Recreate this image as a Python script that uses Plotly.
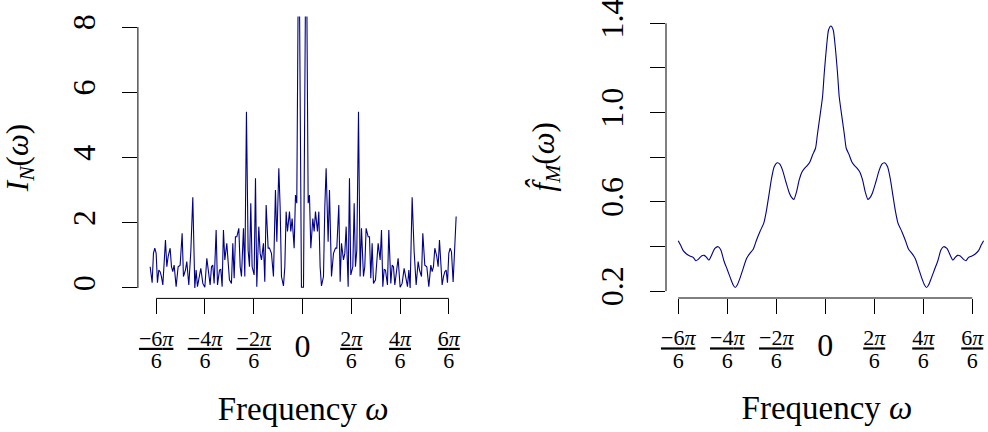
import math
import plotly.graph_objects as go

PI = math.pi

# ---------------- data: raw periodogram I_N(omega) ----------------
freq_periodogram = [
    -3.271, -3.228, -3.200, -3.171, -3.142, -3.114, -3.085, -3.057, -3.028, -2.999,
    -2.971, -2.942, -2.913, -2.885, -2.842, -2.813, -2.785, -2.756, -2.713, -2.670,
    -2.627, -2.584, -2.556, -2.513, -2.484, -2.441, -2.398, -2.355, -2.312, -2.284,
    -2.255, -2.212, -2.183, -2.140, -2.097, -2.054, -2.011, -1.983, -1.954, -1.926,
    -1.897, -1.854, -1.825, -1.782, -1.754, -1.725, -1.697, -1.668, -1.625, -1.596,
    -1.568, -1.525, -1.496, -1.467, -1.439, -1.410, -1.367, -1.338, -1.310, -1.267,
    -1.238, -1.203, -1.167, -1.138, -1.110, -1.081, -1.038, -1.009, -0.981, -0.938,
    -0.909, -0.880, -0.838, -0.809, -0.780, -0.737, -0.709, -0.666, -0.623, -0.580,
    -0.551, -0.508, -0.480, -0.451, -0.408, -0.379, -0.351, -0.322, -0.279, -0.251,
    -0.222, -0.179, -0.150, -0.122, -0.079, -0.022,
    0.022, 0.079, 0.122, 0.150, 0.179, 0.222, 0.251, 0.279, 0.322, 0.351,
    0.379, 0.408, 0.451, 0.480, 0.508, 0.551, 0.580, 0.623, 0.666, 0.709,
    0.737, 0.780, 0.809, 0.838, 0.880, 0.909, 0.938, 0.981, 1.009, 1.038,
    1.081, 1.110, 1.138, 1.167, 1.203, 1.238, 1.267, 1.310, 1.338, 1.367,
    1.410, 1.439, 1.467, 1.496, 1.525, 1.568, 1.596, 1.625, 1.668, 1.697,
    1.725, 1.754, 1.782, 1.825, 1.854, 1.897, 1.926, 1.954, 1.983, 2.011,
    2.054, 2.097, 2.140, 2.183, 2.212, 2.255, 2.284, 2.312, 2.355, 2.398,
    2.441, 2.484, 2.513, 2.556, 2.584, 2.627, 2.670, 2.713, 2.756, 2.785,
    2.813, 2.842, 2.885, 2.913, 2.942, 2.971, 2.999, 3.028, 3.057, 3.085,
    3.114, 3.142, 3.171, 3.200, 3.235, 3.300,
]
periodogram = [
    0.65, 0.16, 1.06, 1.22, 1.06, 0.16, 0.55, 0.50, 0.35, 0.09,
    0.76, 1.47, 0.65, 0.96, 1.22, 0.65, 0.50, 0.70, 0.04, 0.65,
    0.70, 1.68, 0.35, 0.55, 0.81, 0.09, 1.11, 2.78, 0.00, 0.55,
    0.04, 0.35, 0.60, 0.14, 0.02, 0.91, 0.45, 0.09, 0.65, 0.70,
    0.14, 1.78, 0.09, 0.55, 0.57, 0.04, 1.78, 0.86, 1.37, 0.86,
    0.25, 0.14, 1.37, 0.30, 1.57, 1.57, 1.83, 0.65, 0.35, 1.83,
    0.35, 5.40, 1.16, 0.65, 2.60, 0.65, 0.40, 3.36, 0.04, 1.88,
    1.06, 0.86, 1.37, 0.19, 2.54, 1.22, 1.22, 1.06, 0.35, 3.00,
    1.42, 3.67, 2.50, 0.35, 0.06, 0.65, 2.34, 1.73, 2.34, 1.73,
    2.13, 1.22, 2.85, 2.60, 12.0, 0.02,
    0.02, 12.0, 2.60, 2.85, 1.22, 2.13, 1.73, 2.34, 1.73, 2.34,
    0.65, 0.06, 0.35, 2.50, 3.67, 1.42, 3.00, 0.35, 1.06, 1.22,
    1.22, 2.54, 0.19, 1.37, 0.86, 1.06, 1.88, 0.04, 3.36, 0.40,
    0.65, 2.60, 0.65, 1.16, 5.40, 0.35, 1.83, 0.35, 0.65, 1.83,
    1.57, 1.57, 0.30, 1.37, 0.14, 0.25, 0.86, 1.37, 0.86, 1.78,
    0.04, 0.57, 0.55, 0.09, 1.78, 0.14, 0.70, 0.65, 0.09, 0.45,
    0.91, 0.02, 0.14, 0.60, 0.35, 0.04, 0.55, 0.00, 2.78, 1.11,
    0.09, 0.81, 0.55, 0.35, 1.68, 0.70, 0.65, 0.04, 0.70, 0.50,
    0.65, 1.22, 0.96, 0.65, 1.47, 0.76, 0.09, 0.35, 0.50, 0.55,
    0.16, 1.06, 1.22, 1.10, 0.18, 2.19,
]

# ---------------- data: smoothed spectrum f_M(omega) ----------------
freq_smooth = [
    -3.141, -3.091, -3.034, -2.963, -2.892, -2.821, -2.764, -2.714, -2.643, -2.586,
    -2.536, -2.486, -2.429, -2.358, -2.287, -2.230, -2.165, -2.094, -2.023, -1.966,
    -1.923, -1.880, -1.823, -1.752, -1.681, -1.610, -1.539, -1.467, -1.396, -1.311,
    -1.254, -1.197, -1.147, -1.090, -1.026, -0.969, -0.912, -0.841, -0.769, -0.719,
    -0.670, -0.613, -0.556, -0.499, -0.442, -0.385, -0.328, -0.271, -0.207, -0.164,
    -0.114, -0.057, -0.021, 0.028, 0.071, 0.121,
    0.171, 0.214, 0.263, 0.299, 0.356, 0.406, 0.449, 0.513, 0.570, 0.627,
    0.684, 0.741, 0.798, 0.855, 0.912, 0.961, 1.011, 1.083, 1.154, 1.211,
    1.268, 1.332, 1.389, 1.439, 1.496, 1.553, 1.638, 1.709, 1.781, 1.852,
    1.923, 1.994, 2.065, 2.122, 2.165, 2.208, 2.265, 2.336, 2.407, 2.472,
    2.529, 2.600, 2.671, 2.728, 2.778, 2.828, 2.885, 2.956, 3.006, 3.063,
    3.134, 3.205, 3.276, 3.333, 3.383,
]
smooth = [
    0.426, 0.406, 0.381, 0.366, 0.357, 0.351, 0.336, 0.342, 0.357, 0.360,
    0.351, 0.339, 0.361, 0.391, 0.399, 0.384, 0.336, 0.297, 0.257, 0.227,
    0.216, 0.227, 0.257, 0.302, 0.346, 0.369, 0.387, 0.429, 0.466, 0.506,
    0.563, 0.638, 0.705, 0.757, 0.775, 0.769, 0.742, 0.690, 0.641, 0.620,
    0.611, 0.645, 0.698, 0.733, 0.750, 0.762, 0.778, 0.810, 0.840, 0.907,
    0.982, 1.071, 1.176, 1.295, 1.370, 1.388,
    1.370, 1.295, 1.176, 1.071, 0.982, 0.907, 0.840, 0.810, 0.778, 0.762,
    0.750, 0.733, 0.698, 0.645, 0.611, 0.620, 0.641, 0.690, 0.742, 0.769,
    0.775, 0.757, 0.705, 0.638, 0.563, 0.506, 0.466, 0.429, 0.387, 0.369,
    0.346, 0.302, 0.257, 0.227, 0.216, 0.227, 0.257, 0.297, 0.336, 0.384,
    0.399, 0.391, 0.361, 0.339, 0.351, 0.360, 0.357, 0.342, 0.336, 0.351,
    0.357, 0.366, 0.381, 0.406, 0.426,
]

# ---------------- tick labels ----------------
frac_tickvals = [-PI, -2 * PI / 3, -PI / 3, PI / 3, 2 * PI / 3, PI]
frac_numerators = ["−6", "−4", "−2", "2", "4", "6"]
frac_denominator = "6"
zero_tickvals = [0]
zero_ticktext = ["0"]
y1_tickvals = [0, 2, 4, 6, 8]
y1_ticktext = ["0", "2", "4", "6", "8"]
y2_tickvals = [0.2, 0.6, 1.0, 1.4]
y2_ticktext = ["0.2", "0.6", "1.0", "1.4"]
y2_minor_tickvals = [0.4, 0.8, 1.2]

frac_ticktext = [
    f"<span style='font-size:22px'><u>{n}<i>π</i></u></span><br>"
    f"<span style='font-size:22px'>{frac_denominator}</span>"
    for n in frac_numerators
]

FONT = "Liberation Serif"
LINE_COLOR = "#00008B"
W, H = 988, 432
X1_RANGE = [-3.534, 3.563]
X2_RANGE = [-3.402, 3.478]

fig = go.Figure()
fig.add_trace(go.Scatter(x=freq_periodogram, y=periodogram, mode="lines",
                         line=dict(color=LINE_COLOR, width=1.1),
                         xaxis="x", yaxis="y", showlegend=False, hoverinfo="skip"))
fig.add_trace(go.Scatter(x=freq_smooth, y=smooth, mode="lines",
                         line=dict(color=LINE_COLOR, width=1.1, shape="spline", smoothing=0.6),
                         xaxis="x2", yaxis="y2", showlegend=False, hoverinfo="skip"))
# empty carriers for the overlay axes that hold the "0" label
fig.add_trace(go.Scatter(x=[], y=[], xaxis="x3", yaxis="y", showlegend=False))
fig.add_trace(go.Scatter(x=[], y=[], xaxis="x4", yaxis="y2", showlegend=False))

tick_style = dict(ticks="outside", ticklen=15, tickwidth=1, tickcolor="black",
                  showgrid=False, zeroline=False, showline=False, automargin=False)
frac_x = dict(tickvals=frac_tickvals, ticktext=frac_ticktext,
              tickfont=dict(family=FONT, size=17, color="black"),
              ticklabelstandoff=11, ticklabeloverflow="allow",
              title=dict(text="Frequency <i>ω</i>",
                         font=dict(family=FONT, size=33, color="black"), standoff=24),
              **tick_style)
zero_x = dict(tickvals=zero_tickvals, ticktext=zero_ticktext,
              tickfont=dict(family=FONT, size=32, color="black"),
              ticklabelstandoff=4, ticklabeloverflow="allow", **tick_style)
common_y = dict(tickangle=-90, tickfont=dict(family=FONT, size=32, color="black"),
                ticklabelstandoff=14, ticklabeloverflow="allow", **tick_style)

X1_DOM = [137.9 / W, 468.4 / W]
X2_DOM = [666 / W, 1.0]

fig.update_layout(
    width=W, height=H,
    margin=dict(l=0, r=0, t=0, b=0, autoexpand=False),
    paper_bgcolor="white", plot_bgcolor="white",
    xaxis=dict(domain=X1_DOM, range=X1_RANGE, anchor="y", **frac_x),
    xaxis3=dict(domain=X1_DOM, range=X1_RANGE, anchor="y", overlaying="x", **zero_x),
    yaxis=dict(domain=[(H - 298.4) / H, (H - 16.6) / H], range=[-0.32, 8.32], anchor="x",
               tickvals=y1_tickvals, ticktext=y1_ticktext,
               title=dict(text="<i>I</i><sub><i>N</i></sub>(<i>ω</i>)",
                          font=dict(family=FONT, size=31, color="black"), standoff=30),
               **common_y),
    xaxis2=dict(domain=X2_DOM, range=X2_RANGE, anchor="y2", **frac_x),
    xaxis4=dict(domain=X2_DOM, range=X2_RANGE, anchor="y2", overlaying="x2", **zero_x),
    yaxis2=dict(domain=[(H - 298.0) / H, (H - 15.5) / H], range=[0.169, 1.435], anchor="x2",
                tickvals=y2_tickvals, ticktext=y2_ticktext,
                minor=dict(tickmode="array", tickvals=y2_minor_tickvals, ticks="outside",
                           ticklen=15, tickwidth=1, tickcolor="black", showgrid=False),
                title=dict(text="<i>f̂</i><sub><i>M</i></sub>(<i>ω</i>)",
                           font=dict(family=FONT, size=31, color="black"), standoff=30),
                **common_y),
    shapes=[
        dict(type="line", xref="x", yref="y domain", x0=-PI, x1=PI, y0=0, y1=0,
             line=dict(color="black", width=1)),
        dict(type="line", xref="x domain", yref="y", x0=0, x1=0, y0=0, y1=8,
             line=dict(color="black", width=1)),
        dict(type="line", xref="x2", yref="y2 domain", x0=-PI, x1=PI, y0=0, y1=0,
             line=dict(color="black", width=1)),
        dict(type="line", xref="x2 domain", yref="y2", x0=0, x1=0, y0=0.2, y1=1.4,
             line=dict(color="black", width=1)),
    ],
)

fig.write_html("out.html")
